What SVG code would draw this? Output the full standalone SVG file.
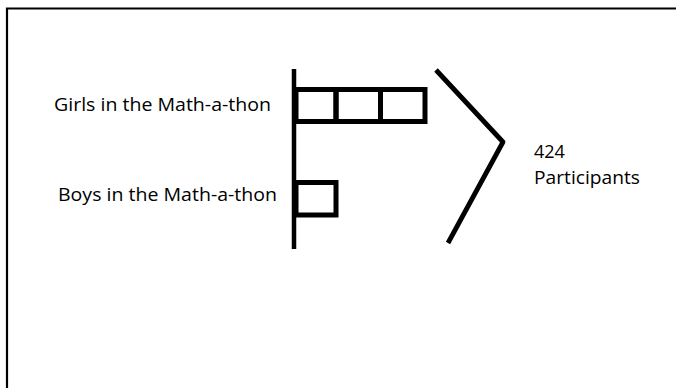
<svg xmlns="http://www.w3.org/2000/svg" width="676" height="388" viewBox="0 0 676 388">
<style>
.ln{stroke:#000;fill:none;stroke-linecap:butt}
.bx{stroke:#000;fill:none;stroke-width:5}
.t{font-family:"Open Sans","Noto Sans",sans-serif;font-size:18px;fill:#000}
</style>
<rect width="676" height="388" fill="#fff"/>
<g id="frame">
<path class="ln" d="M7 388V8.5H676" stroke-width="2.2"/>
</g>
<g id="axis">
<line class="ln" x1="294" y1="69" x2="294" y2="249" stroke-width="4.5" stroke-linecap="round"/>
</g>
<g id="girls">
<text class="t" x="54" y="111" textLength="217" lengthAdjust="spacingAndGlyphs">Girls in the Math-a-thon</text>
<rect class="bx" x="296" y="89.5" width="40" height="32"/>
<rect class="bx" x="336" y="89.5" width="44.5" height="32"/>
<rect class="bx" x="380.5" y="89.5" width="44.5" height="32"/>
</g>
<g id="boys">
<text class="t" x="58" y="201" textLength="219" lengthAdjust="spacingAndGlyphs">Boys in the Math-a-thon</text>
<rect class="bx" x="296" y="182.5" width="40" height="32.5"/>
</g>
<g id="connectors">
<polyline class="ln" points="436,70 503,142 448,243" stroke-width="4.8" stroke-linecap="round" stroke-linejoin="round"/>
</g>
<g id="total">
<text class="t" x="534" y="158">424</text>
<text class="t" x="534" y="184" textLength="106" lengthAdjust="spacingAndGlyphs">Participants</text>
</g>
</svg>
